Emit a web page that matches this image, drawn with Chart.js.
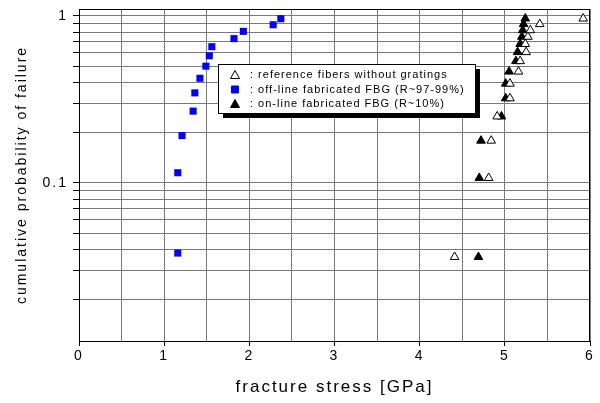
<!DOCTYPE html>
<html>
<head>
<meta charset="utf-8">
<script src="https://cdn.jsdelivr.net/npm/chart.js"></script>
<style>
  html, body { margin: 0; padding: 0; background: #fff; }
  #wrap { width: 600px; height: 403px; }
</style>
</head>
<body>
<div id="wrap"><canvas id="weibull"></canvas></div>
<script>
// reference fibers without gratings (open triangles)
const stressRef = [4.41, 4.81, 4.84, 4.91, 5.06, 5.06, 5.16, 5.18, 5.25, 5.24, 5.27, 5.30, 5.41, 5.92];
const probRef = [0.036, 0.107, 0.179, 0.25, 0.321, 0.393, 0.464, 0.536, 0.607, 0.679, 0.75, 0.821, 0.893, 0.964];

// off-line fabricated FBG (blue squares)
const stressOff = [1.16, 1.16, 1.21, 1.34, 1.36, 1.42, 1.49, 1.53, 1.56, 1.82, 1.93, 2.28, 2.37];
const probOff = [0.038, 0.115, 0.192, 0.269, 0.346, 0.423, 0.5, 0.577, 0.654, 0.731, 0.808, 0.885, 0.962];

// on-line fabricated FBG (filled triangles)
const stressOn = [4.69, 4.70, 4.72, 4.96, 5.01, 5.01, 5.05, 5.13, 5.15, 5.18, 5.20, 5.21, 5.22, 5.24];
const probOn = [0.036, 0.107, 0.179, 0.25, 0.321, 0.393, 0.464, 0.536, 0.607, 0.679, 0.75, 0.821, 0.893, 0.964];

// y grid lines and labelled y ticks
const probGrid = [0.02, 0.03, 0.04, 0.05, 0.06, 0.07, 0.08, 0.09, 0.1,
                  0.2, 0.3, 0.4, 0.5, 0.6, 0.7, 0.8, 0.9, 1];
const probLabels = [0.1, 1];

const labels = [
    ': reference fibers without gratings',
    ': off-line fabricated FBG (R~97-99%)',
    ': on-line fabricated FBG (R~10%)'
];

function pairs(xs, ys) {
    return xs.map((x, i) => ({ x: x, y: ys[i] }));
}

Chart.defaults.font.family = "'Liberation Sans', Arial, sans-serif";
Chart.defaults.color = '#000';

// the original uses wide letter spacing on axis texts
const spacing = {
    id: 'spacing',
    beforeUpdate(chart) { chart.ctx.letterSpacing = '2px'; },
    beforeDraw(chart) { chart.ctx.letterSpacing = '2px'; }
};

const frame = {
    id: 'frame',
    afterDraw(chart) {
        const a = chart.chartArea;
        const ctx = chart.ctx;
        ctx.save();
        ctx.strokeStyle = '#000';
        ctx.lineWidth = 1;
        ctx.strokeRect(Math.round(a.left) + 0.5, Math.round(a.top) + 0.5,
            Math.round(a.right - a.left) - 1, Math.round(a.bottom - a.top));
        ctx.restore();
    }
};

function marker(ctx, style, x, y, fill, stroke) {
    ctx.beginPath();
    if (style === 'rect') {
        ctx.rect(x - 3.5, y - 3.5, 7, 7);
    } else {
        ctx.moveTo(x, y - 4.5);
        ctx.lineTo(x + 4.5, y + 3.5);
        ctx.lineTo(x - 4.5, y + 3.5);
        ctx.closePath();
    }
    ctx.fillStyle = fill;
    ctx.fill();
    ctx.strokeStyle = stroke;
    ctx.lineWidth = 1;
    ctx.stroke();
}

const boxLegend = {
    id: 'boxLegend',
    afterDraw(chart) {
        const ctx = chart.ctx;
        ctx.save();
        ctx.fillStyle = '#000';
        ctx.fillRect(223, 69, 257, 49);
        ctx.fillStyle = '#fff';
        ctx.fillRect(218, 64, 257, 49);
        ctx.strokeStyle = '#000';
        ctx.lineWidth = 1;
        ctx.strokeRect(218.5, 64.5, 257, 49);
        ctx.font = "11px 'Liberation Sans', Arial, sans-serif";
        ctx.letterSpacing = '1px';
        ctx.textBaseline = 'middle';
        chart.data.datasets.forEach((ds, i) => {
            const y = 75 + i * 14.5;
            marker(ctx, ds.pointStyle, 235, y, ds.backgroundColor, ds.borderColor);
            ctx.fillStyle = '#000';
            ctx.fillText(ds.label, 250, y);
        });
        ctx.restore();
    }
};

new Chart(document.getElementById('weibull'), {
    type: 'scatter',
    data: {
        datasets: [
            {
                label: labels[0],
                data: pairs(stressRef, probRef),
                pointStyle: 'triangle',
                pointRadius: 5,
                backgroundColor: '#fff',
                borderColor: '#000',
                borderWidth: 1
            },
            {
                label: labels[1],
                data: pairs(stressOff, probOff),
                pointStyle: 'rect',
                pointRadius: 5,
                backgroundColor: '#0000ff',
                borderColor: '#0000ff',
                borderWidth: 0
            },
            {
                label: labels[2],
                data: pairs(stressOn, probOn),
                pointStyle: 'triangle',
                pointRadius: 5,
                backgroundColor: '#000',
                borderColor: '#000',
                borderWidth: 1
            }
        ]
    },
    options: {
        responsive: true,
        maintainAspectRatio: false,
        animation: false,
        layout: { padding: { top: 9, right: 10, bottom: 5, left: 0 } },
        plugins: {
            legend: { display: false },
            tooltip: { enabled: false }
        },
        scales: {
            x: {
                type: 'linear',
                min: 0,
                max: 6,
                ticks: {
                    stepSize: 0.5,
                    font: { size: 14 },
                    padding: 2,
                    maxRotation: 0,
                    callback: v => (v % 1 === 0 ? String(v) : '')
                },
                grid: {
                    color: '#7a7a7a',
                    lineWidth: 1,
                    tickLength: 5,
                    tickColor: ctx => (ctx.tick && ctx.tick.value % 1 === 0 ? '#000' : 'rgba(0,0,0,0)')
                },
                border: { color: '#000', width: 1 },
                title: {
                    display: true,
                    text: 'fracture stress [GPa]',
                    font: { size: 17 },
                    padding: { top: 4, bottom: 0 }
                },
                afterFit: s => { s.height = 57; s.paddingLeft = 0; s.paddingRight = 0; }
            },
            y: {
                type: 'logarithmic',
                min: 0.0113,
                max: 1.1,
                afterBuildTicks: s => { s.ticks = probGrid.map(v => ({ value: v })); },
                ticks: {
                    font: { size: 14 },
                    padding: 5,
                    autoSkip: false,
                    callback: v => (probLabels.includes(v) ? String(v) : '')
                },
                grid: {
                    color: '#7a7a7a',
                    lineWidth: 1,
                    tickLength: 6,
                    tickColor: '#000'
                },
                border: { color: '#000', width: 1 },
                title: {
                    display: true,
                    text: 'cumulative probability of failure',
                    font: { size: 14 },
                    padding: { top: 14, bottom: 4 }
                },
                afterFit: s => { s.width = 79; s.paddingTop = 0; s.paddingBottom = 0; }
            }
        }
    },
    plugins: [spacing, frame, boxLegend]
});
</script>
</body>
</html>
